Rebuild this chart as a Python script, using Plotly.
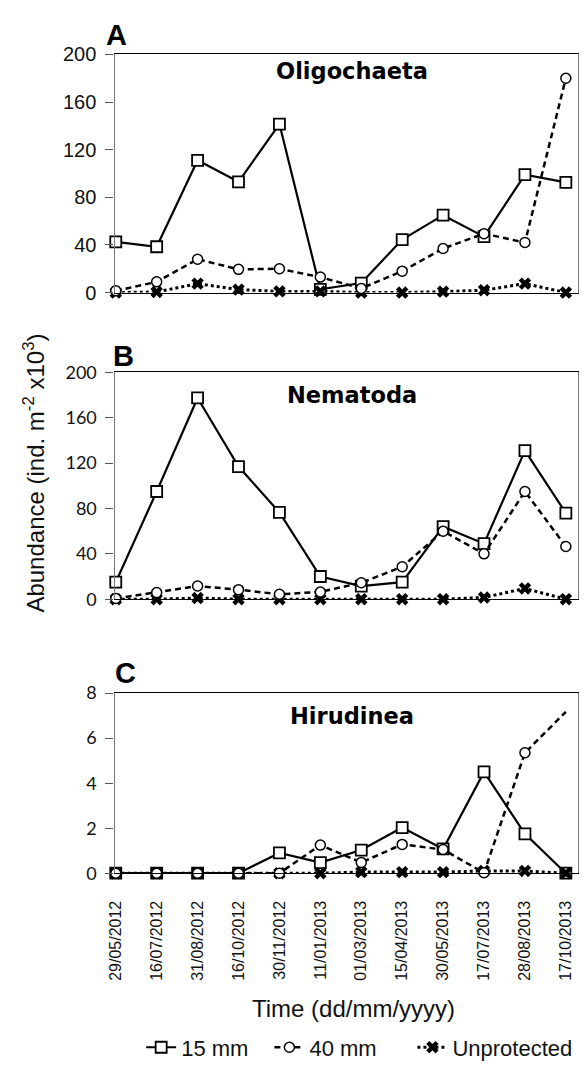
import plotly.graph_objects as go

dates = ["29/05/2012", "16/07/2012", "31/08/2012", "16/10/2012", "30/11/2012", "11/01/2013",
         "01/03/2013", "15/04/2013", "30/05/2013", "17/07/2013", "28/08/2013", "17/10/2013"]

olig_15 = [42.5, 38.5, 111, 93, 141.5, 2.7, 8, 44.5, 65, 47, 99, 92.5]
olig_40 = [1.5, 9, 28, 19.5, 20, 13, 3.5, 18, 37, 49.5, 42, 180]
olig_un = [0, 0.5, 7.5, 2.5, 1, 1, 0, 0, 0.8, 2, 7.5, 0]

nema_15 = [15, 95, 177.5, 117, 76.5, 20, 11.5, 15, 64, 49, 131, 76]
nema_40 = [0.6, 5.8, 11.6, 8.4, 4.3, 6.4, 14.5, 28.6, 60, 40, 95, 46.5]
nema_un = [0, 0, 1, 0, 0, 0, 0, 0, 0, 1.5, 9.5, 0]

hiru_15 = [0, 0, 0, 0, 0.9, 0.47, 1.03, 2.03, 1.08, 4.5, 1.75, 0]
hiru_40 = [0, 0, 0, 0, 0, 1.25, 0.48, 1.28, 1.05, 0.02, 5.35, 7.17]
hiru_un = [0, 0, 0, 0, 0, 0, 0.05, 0.05, 0.05, 0.1, 0.1, 0]

series_names = ["15 mm", "40 mm", "Unprotected"]
panel_titles = ["Oligochaeta", "Nematoda", "Hirudinea"]
panel_letters = ["A", "B", "C"]

W, H = 588, 1078

def py(px):
    return 1 - px / H

def pxx(px):
    return px / W

x_dom = [pxx(108), pxx(578)]
y_doms = [[py(286.7), py(43.3)], [py(600), py(368.3)], [py(880), py(696)]]

panels = [
    (olig_15, olig_40, olig_un, [0, 200], [0, 40, 80, 120, 160, 200]),
    (nema_15, nema_40, nema_un, [0, 200], [0, 40, 80, 120, 160, 200]),
    (hiru_15, hiru_40, hiru_un, [0, 8], [0, 2, 4, 6, 8]),
]

fig = go.Figure()

for i, (s15, s40, sun, yr, yt) in enumerate(panels):
    xa = "x" if i == 0 else f"x{i+1}"
    ya = "y" if i == 0 else f"y{i+1}"
    first = i == 0
    size40 = 10
    if i == 2:
        size40 = [10] * (len(s40) - 1) + [0]
    fig.add_trace(go.Scatter(
        x=dates, y=s15, xaxis=xa, yaxis=ya, name=series_names[0], legend="legend",
        mode="lines+markers", cliponaxis=False, showlegend=first,
        line=dict(color="black", width=2.2),
        marker=dict(symbol="square", size=11, color="#ffffff", line=dict(color="black", width=1.8)),
    ))
    fig.add_trace(go.Scatter(
        x=dates, y=sun, xaxis=xa, yaxis=ya, name=series_names[2], legend="legend3",
        mode="lines+markers", cliponaxis=False, showlegend=first,
        line=dict(color="black", width=3, dash="dot"),
        marker=dict(symbol="x", size=11, color="black", line=dict(width=0)),
    ))
    fig.add_trace(go.Scatter(
        x=dates, y=s40, xaxis=xa, yaxis=ya, name=series_names[1], legend="legend2",
        mode="lines+markers", cliponaxis=False, showlegend=first,
        line=dict(color="black", width=2.5, dash="6px,4px"),
        marker=dict(symbol="circle", size=size40, color="#ffffff", opacity=1,
                    line=dict(color="black", width=1.5)),
    ))

tickfont_a = dict(family="Liberation Sans, Arial", size=20, color="#111")
tickfont_bc = dict(family="Lato", size=18, color="#111")

for i, (s15, s40, sun, yr, yt) in enumerate(panels):
    xk = "xaxis" if i == 0 else f"xaxis{i+1}"
    yk = "yaxis" if i == 0 else f"yaxis{i+1}"
    xa_anchor = "y" if i == 0 else f"y{i+1}"
    ya_anchor = "x" if i == 0 else f"x{i+1}"
    fig.layout[xk] = dict(
        domain=x_dom, anchor=xa_anchor, type="category", categoryorder="array",
        categoryarray=dates, range=[-0.03, 11.3],
        showline=True, linecolor="black", linewidth=1.3, mirror=True,
        showgrid=False, zeroline=False, ticks="",
        showticklabels=(i == 2), tickangle=-90,
        tickfont=dict(family="Liberation Sans, Arial", size=16, color="#111"),
        ticklabelstandoff=20,
    )
    fig.layout[yk] = dict(
        domain=y_doms[i], anchor=ya_anchor, range=yr, tickvals=yt,
        showline=True, linecolor="#777", linewidth=1.3, mirror=True,
        showgrid=False, zeroline=False, ticks="outside", ticklen=8, tickcolor="#555",
        tickfont=tickfont_a if i == 0 else tickfont_bc, ticklabelstandoff=5,
    )

ann = []
letter_pos = [(110, 23), (117, 351), (119, 675)]
title_pos = [(349, 60), (349, 391), (349, 719)]
for i in range(3):
    ann.append(dict(text=f"<b>{panel_letters[i]}</b>", x=pxx(letter_pos[i][0]), y=py(letter_pos[i][1]),
                    xref="paper", yref="paper", showarrow=False, xanchor="center", yanchor="middle",
                    font=dict(family="Liberation Sans, Arial", size=29, color="black")))
    ann.append(dict(text=f"<b>{panel_titles[i]}</b>", x=pxx(title_pos[i][0]), y=py(title_pos[i][1]),
                    xref="paper", yref="paper", showarrow=False, xanchor="center", yanchor="middle",
                    font=dict(family="DejaVu Sans", size=22.5, color="black")))

ann.append(dict(text="Abundance (ind. m<sup>-2</sup> x10<sup>3</sup>)", x=pxx(26), y=py(471),
                xref="paper", yref="paper", showarrow=False, textangle=-90,
                xanchor="center", yanchor="middle",
                font=dict(family="Liberation Sans, Arial", size=24, color="#111")))
ann.append(dict(text="Time (dd/mm/yyyy)", x=pxx(350), y=py(1018),
                xref="paper", yref="paper", showarrow=False, xanchor="center", yanchor="middle",
                font=dict(family="Liberation Sans, Arial", size=24, color="#111")))

legend_font = dict(family="Liberation Sans, Arial", size=22, color="#111")
legend_x = [135, 265, 410]
legend_cfg = {}
for k, name in enumerate(["legend", "legend2", "legend3"]):
    legend_cfg[name] = dict(orientation="h", x=pxx(legend_x[k]), y=py(1058), xanchor="left",
                            yanchor="middle", font=legend_font, bgcolor="rgba(0,0,0,0)",
                            borderwidth=0)

fig.update_layout(
    width=W, height=H, margin=dict(l=0, r=0, t=0, b=0),
    paper_bgcolor="white", plot_bgcolor="white",
    annotations=ann,
    **legend_cfg,
)

fig.write_html("out.html")
